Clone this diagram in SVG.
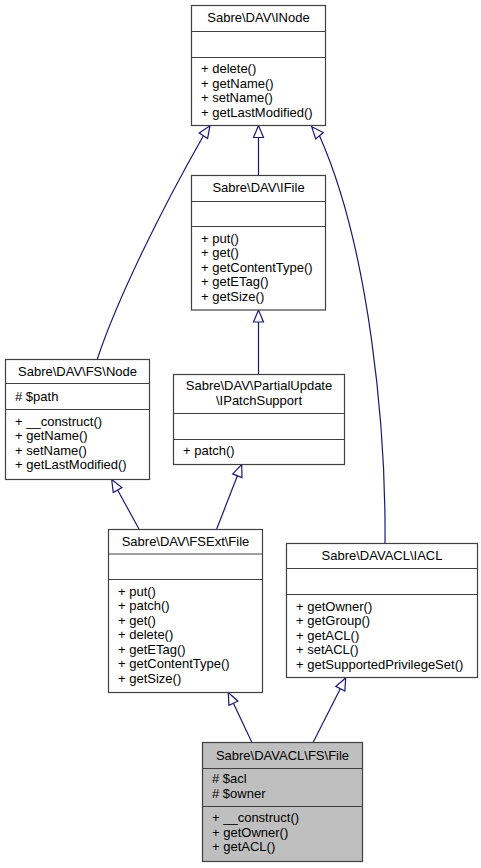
<svg xmlns="http://www.w3.org/2000/svg" width="481" height="868" viewBox="0 0 481 868">
<style>
.box{fill:#ffffff;stroke:#404040;stroke-width:1.2}
.cur{fill:#bfbfbf;stroke:#404040;stroke-width:1.2}
.sep{stroke:#404040;stroke-width:1.2}
text{font-family:"Liberation Sans",Arial,sans-serif;font-size:13px;fill:#000000}
.t{text-anchor:middle}
.edge{fill:none;stroke:#191970;stroke-width:1.2}
.ah{fill:#ffffff;stroke:#191970;stroke-width:1.2}
</style>
<rect x="0" y="0" width="481" height="868" fill="#ffffff"/>
<g id="connectors">
<path class="edge" d="M258.5,175 L258.5,137.5"/>
<polygon class="ah" points="258.5,125.5 253.5,137.5 263.5,137.5"/>
<path class="edge" d="M258.5,374 L258.5,322"/>
<polygon class="ah" points="258.5,310 253.5,322 263.5,322"/>
<path class="edge" d="M97.3,359 C117,300 160,212 203.4,135.7"/>
<polygon class="ah" points="210,125.7 207.6,138.45 199.2,132.95"/>
<path class="edge" d="M385,543 C386,430 370,250 319.5,135.8"/>
<polygon class="ah" points="311.7,126.7 323.3,132.55 315.7,139.05"/>
<path class="edge" d="M139,529 L117.6,490"/>
<polygon class="ah" points="111.7,479.5 121.95,487.55 113.25,492.45"/>
<path class="edge" d="M216.7,529 L237.4,475.7"/>
<polygon class="ah" points="241.7,464.5 242,477.5 232.7,473.9"/>
<path class="edge" d="M251.7,742 L233.4,703.3"/>
<polygon class="ah" points="228.3,692.5 237.9,701.2 228.9,705.4"/>
<path class="edge" d="M313.3,742 L340.3,688.7"/>
<polygon class="ah" points="345.7,678 344.8,691 335.8,686.4"/>
</g>
<g id="node-INode">
<rect class="box" x="191.5" y="5.5" width="134" height="120"/>
<line class="sep" x1="191.5" y1="31.5" x2="325.5" y2="31.5"/>
<line class="sep" x1="191.5" y1="57.5" x2="325.5" y2="57.5"/>
<text class="t" x="258.5" y="22">Sabre\DAV\INode</text>
<text x="201" y="73">+ delete()</text>
<text x="201" y="87.5">+ getName()</text>
<text x="201" y="102">+ setName()</text>
<text x="201" y="116.5">+ getLastModified()</text>
</g>
<g id="node-IFile">
<rect class="box" x="191.5" y="175.5" width="134" height="134.5"/>
<line class="sep" x1="191.5" y1="201.5" x2="325.5" y2="201.5"/>
<line class="sep" x1="191.5" y1="226.5" x2="325.5" y2="226.5"/>
<text class="t" x="258.5" y="192">Sabre\DAV\IFile</text>
<text x="201" y="242.5">+ put()</text>
<text x="201" y="257">+ get()</text>
<text x="201" y="271.5">+ getContentType()</text>
<text x="201" y="286">+ getETag()</text>
<text x="201" y="300.5">+ getSize()</text>
</g>
<g id="node-FSNode">
<rect class="box" x="5.5" y="359.5" width="144" height="120"/>
<line class="sep" x1="5.5" y1="383.5" x2="149.5" y2="383.5"/>
<line class="sep" x1="5.5" y1="409.5" x2="149.5" y2="409.5"/>
<text class="t" x="77.5" y="375.5">Sabre\DAV\FS\Node</text>
<text x="15" y="401">#  $path</text>
<text x="15" y="425.5">+ __construct()</text>
<text x="15" y="440">+ getName()</text>
<text x="15" y="454.5">+ setName()</text>
<text x="15" y="469">+ getLastModified()</text>
</g>
<g id="node-IPatchSupport">
<rect class="box" x="173.5" y="374.5" width="171" height="90"/>
<line class="sep" x1="173.5" y1="413.5" x2="344.5" y2="413.5"/>
<line class="sep" x1="173.5" y1="439.5" x2="344.5" y2="439.5"/>
<text class="t" x="259" y="390">Sabre\DAV\PartialUpdate</text>
<text class="t" x="259" y="404.5">\IPatchSupport</text>
<text x="183" y="455">+ patch()</text>
</g>
<g id="node-FSExtFile">
<rect class="box" x="108.5" y="529.5" width="154" height="163"/>
<line class="sep" x1="108.5" y1="554" x2="262.5" y2="554"/>
<line class="sep" x1="108.5" y1="579.5" x2="262.5" y2="579.5"/>
<text class="t" x="185.5" y="546">Sabre\DAV\FSExt\File</text>
<text x="118" y="595.5">+ put()</text>
<text x="118" y="610">+ patch()</text>
<text x="118" y="624.5">+ get()</text>
<text x="118" y="639">+ delete()</text>
<text x="118" y="653.5">+ getETag()</text>
<text x="118" y="668">+ getContentType()</text>
<text x="118" y="682.5">+ getSize()</text>
</g>
<g id="node-IACL">
<rect class="box" x="286.5" y="543.5" width="191" height="134"/>
<line class="sep" x1="286.5" y1="568.5" x2="477.5" y2="568.5"/>
<line class="sep" x1="286.5" y1="594.5" x2="477.5" y2="594.5"/>
<text class="t" x="382" y="560">Sabre\DAVACL\IACL</text>
<text x="296" y="610.5">+ getOwner()</text>
<text x="296" y="625">+ getGroup()</text>
<text x="296" y="639.5">+ getACL()</text>
<text x="296" y="654">+ setACL()</text>
<text x="296" y="668.5">+ getSupportedPrivilegeSet()</text>
</g>
<g id="node-FSFile">
<rect class="cur" x="202.5" y="742.5" width="160" height="119"/>
<line class="sep" x1="202.5" y1="768.5" x2="362.5" y2="768.5"/>
<line class="sep" x1="202.5" y1="806.5" x2="362.5" y2="806.5"/>
<text class="t" x="282.5" y="759.5">Sabre\DAVACL\FS\File</text>
<text x="212" y="783">#  $acl</text>
<text x="212" y="797.5">#  $owner</text>
<text x="212" y="822">+ __construct()</text>
<text x="212" y="836.5">+ getOwner()</text>
<text x="212" y="851">+ getACL()</text>
</g>
</svg>
